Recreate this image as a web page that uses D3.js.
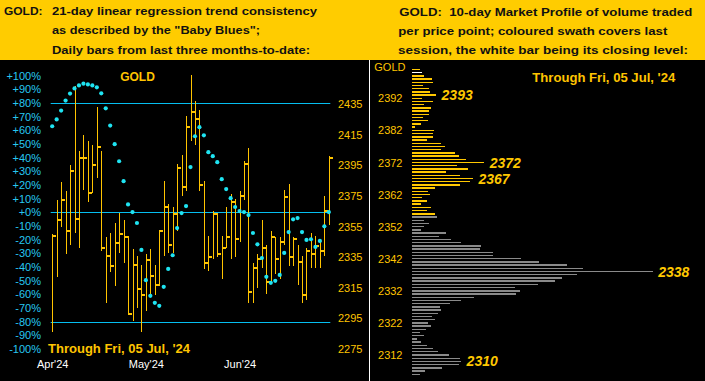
<!DOCTYPE html>
<html>
<head>
<meta charset="utf-8">
<script src="https://cdn.jsdelivr.net/npm/d3@7"></script>
<style>
  html, body { margin: 0; padding: 0; background: #000; }
  svg { display: block; }
</style>
</head>
<body>
<script>
// ---------------- DATA ----------------
// Daily bars, 05 Apr 2024 .. 05 Jul 2024 (63 sessions)
const barHigh = [2350,2372,2384,2378,2395,2447,2404,2415,2411,2408,2433,2404,2348,2351,2357,2364,2359,2349,2340,2336,2330,2337,2340,2330,2353,2385,2370,2368,2396,2402,2427,2454,2437,2431,2385,2349,2365,2364,2349,2368,2376,2373,2378,2398,2406,2331,2337,2359,2343,2352,2348,2348,2379,2383,2348,2343,2336,2341,2351,2349,2346,2375,2401];
const barLow  = [2286,2322,2355,2337,2343,2351,2341,2379,2371,2377,2387,2339,2305,2325,2316,2338,2331,2297,2293,2302,2286,2300,2311,2310,2316,2336,2338,2338,2352,2375,2378,2411,2408,2378,2327,2326,2334,2335,2321,2341,2334,2335,2345,2372,2305,2305,2315,2328,2311,2319,2324,2321,2343,2329,2329,2317,2305,2307,2328,2328,2328,2336,2356];
const barClose= [2349,2359,2372,2352,2391,2360,2400,2400,2377,2395,2407,2341,2336,2329,2344,2350,2348,2298,2330,2314,2310,2333,2323,2317,2352,2368,2343,2363,2393,2381,2420,2430,2425,2382,2331,2335,2363,2337,2341,2348,2371,2347,2375,2396,2312,2328,2334,2341,2319,2348,2334,2345,2374,2335,2347,2332,2310,2339,2337,2342,2339,2365,2400];
// "Baby Blues": 21-day linear regression trend consistency (%)
const babyBlues = [63,68,74.5,81.8,86.9,90.7,92.9,94.2,93.6,92.9,91.5,87.1,76.1,63.5,49.9,37.4,22.8,5.8,0.2,-7.8,-27.5,-49.6,-61.1,-66.2,-68.4,-54.5,-41.4,-31.4,-11.5,-0.5,4.6,33.1,55.7,62.3,56.4,44,41.1,36.7,24.3,17,10.4,3.9,0.9,0.2,-2,-15.1,-23.4,-33.4,-47.2,-51.6,-50.1,-45.8,-29.7,-14.4,-5.1,-4.2,-14.4,-20.2,-19.7,-25.3,-20.9,-10.2,0.2];

const pctTicks   = [100,90,80,70,60,50,40,30,20,10,0,-10,-20,-30,-40,-50,-60,-70,-80,-90,-100];
const pctRefLines = [80, 0, -80];
const priceTicks = [2435,2415,2395,2375,2355,2335,2315,2295,2275];
const monthLabels = ["Apr'24","May'24","Jun'24"];
const monthTickIdx = [0, 21, 42];

// 10-day Market Profile: relative volume per $1 price level, from 2401 down to 2306
const profileLevels = d3.range(2401, 2305, -1);
const profileVolume = [3.3,4.2,5.1,8.2,8.6,4.6,7.1,7.6,10,4.3,
  8.9,5,7.9,7.2,7.1,4.4,6.6,3.7,1.4,9.3,
  8.6,8.7,6.1,12,13.7,12,17.9,19.5,22.3,30,
  18.7,23.1,14.1,19.9,25.3,24,19.9,9.6,6.8,7.6,
  4.3,6.2,3.6,7.8,6.4,9.6,
  10.2,5,6.9,5,3.7,14.1,11.2,16.2,20.4,28.7,
  28.2,33.5,33.5,45.3,52.8,64.4,71,100,68.5,62.3,
  59.4,52.3,42.8,44.9,43.1,25.8,20.4,15.8,11.6,12,
  10.8,8.3,9.6,6.6,7.9,5.8,3.3,5,2.1,3.7,
  6.2,8.7,10.8,15.4,19.9,20.4,19.5,12.5,5.4,3.3];
const profileTicks = [2392,2382,2372,2362,2352,2342,2332,2322,2312];
const profilePeaks = [2393,2372,2367,2338,2310];

const headerLeft  = ["21-day linear regression trend consistency", "as described by the \"Baby Blues\";", "Daily bars from last three months-to-date:"];
const headerRight = ["GOLD:  10-day Market Profile of volume traded", "per price point; coloured swath covers last", "session, the white bar being its closing level:"];
const throughText = "Through Fri, 05 Jul, '24";

// ---------------- STYLE ----------------
const FONT = "'Liberation Sans', Arial, sans-serif";
const YEL = "#FFC400", CY_DOT = "#1FE4F2", CY_LINE = "#05BEF0", CY_TXT = "#27C8F2";
const fmtInt = d3.format("d");

const W = 705, H = 381;
const svg = d3.select("body").append("svg").attr("width", W).attr("height", H)
  .style("font-family", FONT);

svg.append("rect").attr("width", W).attr("height", H).attr("fill", "#000");
svg.append("rect").attr("width", W).attr("height", 60).attr("fill", "#FFCC00");

// ---------------- HEADER ----------------
function hText(str, x, y, len) {
  svg.append("text").attr("x", x).attr("y", y).text(str)
    .attr("fill", "#111").attr("font-weight", "bold").attr("font-size", 11.8)
    .style("white-space", "pre")
    .attr("textLength", len).attr("lengthAdjust", "spacingAndGlyphs");
}
hText("GOLD:", 4, 14.5, 38.5);
const hlY = [14.5, 34.3, 54], hlLen = [265, 208, 258];
headerLeft.forEach((s, i) => hText(s, 52, hlY[i], hlLen[i]));
const hrX = [399.3, 398.3, 398], hrY = [15.5, 34.6, 54], hrLen = [293, 269, 290];
headerRight.forEach((s, i) => hText(s, hrX[i], hrY[i], hrLen[i]));

// ---------------- LEFT PANEL ----------------
const n = barHigh.length;
const x = d3.scaleLinear().domain([0, n - 1]).range([52.2, 328.8]);
const pctY = d3.scaleLinear().domain([-100, 100]).range([349, 75.7]);
const priceY = d3.scaleLinear().domain([2275, 2435]).range([349, 104]);

// percent axis
const ga = svg.append("g").attr("transform", "translate(41,0)")
  .call(d3.axisLeft(pctY).tickValues(pctTicks).tickSize(0).tickPadding(0)
    .tickFormat(d => (d >= 0 ? "+" : "") + d + "%"));
ga.select(".domain").remove();
ga.selectAll("text").attr("fill", CY_TXT).attr("font-size", 11).attr("font-family", FONT);

// price axis
const gp = svg.append("g").attr("transform", "translate(338,0)")
  .call(d3.axisRight(priceY).tickValues(priceTicks).tickSize(0).tickPadding(0).tickFormat(fmtInt));
gp.select(".domain").remove();
gp.selectAll("text").attr("fill", YEL).attr("font-size", 11).attr("font-family", FONT);

// month axis
const gm = svg.append("g").attr("transform", "translate(0,357.5)")
  .call(d3.axisBottom(x).tickValues(monthTickIdx).tickSize(0).tickPadding(3)
    .tickFormat((d, i) => monthLabels[i]));
gm.select(".domain").remove();
gm.selectAll("text").attr("fill", "#fff").attr("font-size", 11).attr("font-family", FONT);

// reference lines
svg.append("g").selectAll("line").data(pctRefLines).join("line")
  .attr("x1", x(0) - 1.5).attr("x2", x(n - 1) + 1.5)
  .attr("y1", d => Math.round(pctY(d)) + 0.5).attr("y2", d => Math.round(pctY(d)) + 0.5)
  .attr("stroke", CY_LINE).attr("stroke-width", 1);

// bars (high-low-close)
const idx = d3.range(n);
const gb = svg.append("g").attr("shape-rendering", "crispEdges");
gb.selectAll("line").data(idx).join("line")
  .attr("x1", i => Math.round(x(i)) + 0.5).attr("x2", i => Math.round(x(i)) + 0.5)
  .attr("y1", i => priceY(barHigh[i])).attr("y2", i => priceY(barLow[i]))
  .attr("stroke", YEL).attr("stroke-width", 1);
gb.selectAll("rect").data(idx).join("rect")
  .attr("x", i => Math.round(x(i))).attr("width", 4)
  .attr("y", i => priceY(barClose[i]) - 1).attr("height", 2)
  .attr("fill", YEL);

// baby blues
svg.append("g").selectAll("circle").data(idx).join("circle")
  .attr("cx", i => x(i)).attr("cy", i => pctY(babyBlues[i])).attr("r", 2.1)
  .attr("fill", CY_DOT);

// labels
svg.append("text").attr("x", 137.5).attr("y", 80.5).attr("text-anchor", "middle")
  .attr("fill", YEL).attr("font-weight", "bold").attr("font-size", 12).text("GOLD");
svg.append("text").attr("x", 48).attr("y", 353.3).attr("fill", YEL)
  .attr("font-weight", "bold").attr("font-size", 13.5)
  .attr("textLength", 142).attr("lengthAdjust", "spacingAndGlyphs").text(throughText);

// ---------------- RIGHT PANEL ----------------
svg.append("line").attr("x1", 369.5).attr("x2", 369.5).attr("y1", 60).attr("y2", H)
  .attr("stroke", "#fff").attr("stroke-width", 1);

const profY = d3.scaleLinear().domain([2392, 2312]).range([98.3, 355]);
const volX = d3.scaleLinear().domain([0, 100]).range([0, 240.7]);
const profX0 = 412;

const gpa = svg.append("g").attr("transform", "translate(402.5,0)")
  .call(d3.axisLeft(profY).tickValues(profileTicks).tickSize(0).tickPadding(0).tickFormat(fmtInt));
gpa.select(".domain").remove();
gpa.selectAll("text").attr("fill", YEL).attr("font-size", 11).attr("font-family", FONT);

svg.append("text").attr("x", 374.3).attr("y", 71.3).attr("fill", YEL)
  .attr("font-size", 11).text("GOLD");

const lastHigh = barHigh[n - 1], lastLow = barLow[n - 1], lastClose = Math.round(barClose[n - 1]);
const rowColor = p => p === lastClose ? "#FFFFFF" : (p >= lastLow && p <= lastHigh ? "#FFC800" : "#8A8A8A");

svg.append("g").attr("shape-rendering", "crispEdges")
  .selectAll("rect").data(profileLevels).join("rect")
  .attr("x", profX0).attr("y", p => profY(p) - 0.7).attr("height", 1.4)
  .attr("width", (p, i) => volX(profileVolume[i]))
  .attr("fill", p => rowColor(p));

svg.append("g").selectAll("text").data(profilePeaks).join("text")
  .attr("x", p => profX0 + volX(profileVolume[profileLevels.indexOf(p)]) + 5.5)
  .attr("y", p => profY(p)).attr("dy", "0.36em")
  .attr("fill", "#FFC800").attr("font-weight", "bold").attr("font-style", "italic")
  .attr("font-size", 14).text(p => p);

svg.append("text").attr("x", 532.3).attr("y", 82.3).attr("fill", YEL)
  .attr("font-weight", "bold").attr("font-size", 13.5)
  .attr("textLength", 143).attr("lengthAdjust", "spacingAndGlyphs").text(throughText);
</script>
</body>
</html>
